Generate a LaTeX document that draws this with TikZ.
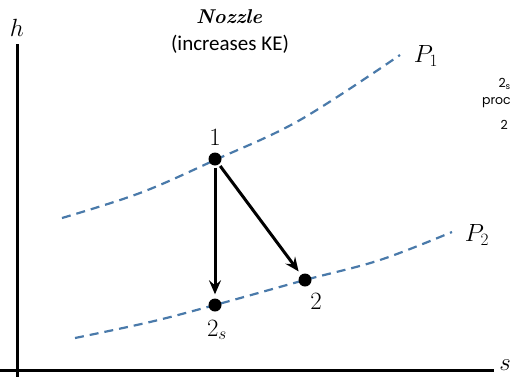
\documentclass[tikz,border=0pt]{standalone}
\usepackage{fontspec}
\newfontfamily\labelsans{Carlito}
\newfontfamily\sidesans{Poppins}
\usetikzlibrary{arrows.meta}
\definecolor{curveblue}{RGB}{74,122,170}
\tikzset{
  isobar/.style={curveblue, line width=2.2pt, dash pattern=on 9pt off 6pt},
  axis/.style={line width=3pt, black},
  statept/.style={circle, fill=black, inner sep=0pt, minimum size=13pt},
  process/.style={line width=3pt, -{Stealth[length=14pt,width=12pt,inset=5pt]}, shorten >=4pt, shorten <=2pt},
  lbl/.style={inner sep=0pt, font=\fontsize{27}{29}\selectfont},
  sidetext/.style={inner sep=0pt, font=\sidesans\fontsize{12.5}{14}\selectfont}
}
\begin{document}
\begin{tikzpicture}[x=1pt, y=-1pt]
\useasboundingbox (0,0) rectangle (512,381);
% axes
\coordinate (ytop) at (17,44);
\coordinate (ybot) at (17,377);
\coordinate (xleft) at (0,370);
\coordinate (xright) at (494,370);
\draw[axis] (ytop) -- (ybot);
\draw[axis] (xleft) -- (xright);
\node[lbl] (hlab) at (17,28) {$h$};
\node[lbl] (slab) at (505,365) {$s$};
% title
\node[inner sep=0pt, font=\bfseries\itshape\fontsize{20}{22}\selectfont] (title) at (229,17) {Nozzle};
\node[inner sep=0pt, font=\labelsans\fontsize{21}{23}\selectfont] (subtitle) at (230,44) {(increases KE)};
% isobars
\draw[isobar] plot[smooth, tension=0.6] coordinates {(62,218) (140,193) (215,160) (300,120) (400,55)};
\draw[isobar] plot[smooth, tension=0.6] coordinates {(75,338) (150,322) (215,305) (305,280) (380,260) (452,232)};
\node[lbl] (P1) at (426,56) {$P_1$};
\node[lbl] (P2) at (477,235) {$P_2$};
% states
\node[statept] (s1) at (215,159) {};
\node[statept] (s2s) at (215,305) {};
\node[statept] (s2) at (305,280) {};
\node[lbl] (l1) at (215,137) {$1$};
\node[lbl] (l2s) at (217,330) {$2_s$};
\node[lbl] (l2) at (316,301) {$2$};
\draw[process] (s1) -- (s2s);
\draw[process] (s1) -- (s2);
% side text fragments (cut in the reference)
\node[sidetext, anchor=east] (side1) at (511,84) {2\textsubscript{s}};
\node[sidetext, anchor=east] (side2) at (511,103) {proc};
\node[sidetext, anchor=east] (side3) at (508,125) {2};
\end{tikzpicture}
\end{document}
